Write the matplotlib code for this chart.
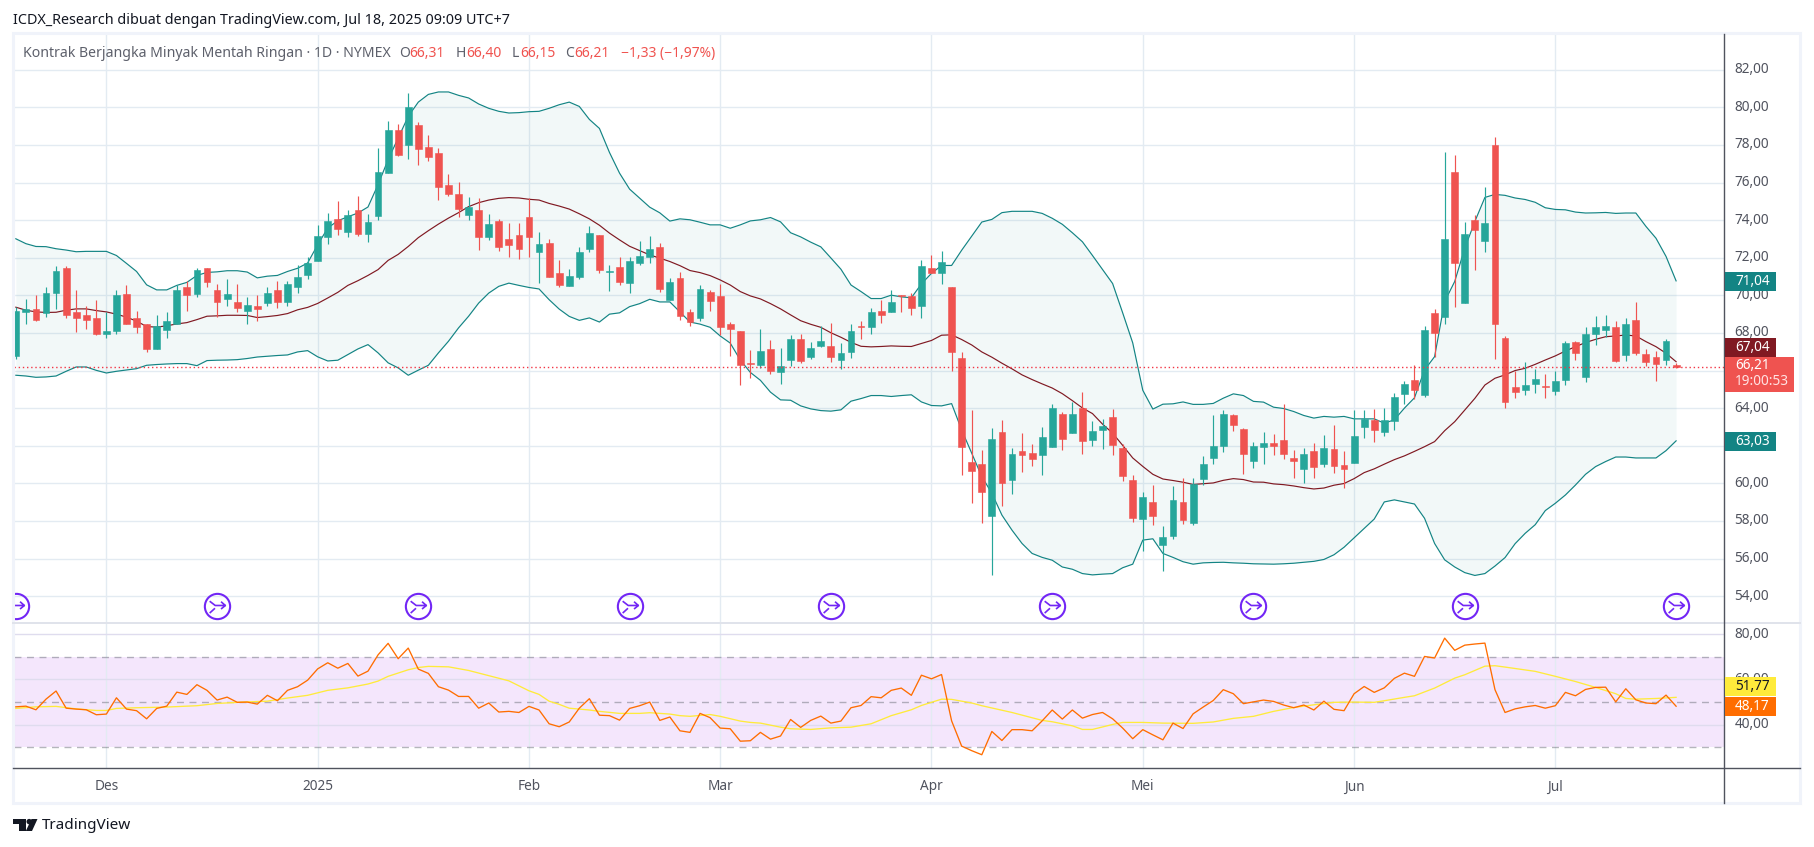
import matplotlib
matplotlib.use("Agg")
import matplotlib.pyplot as plt
import matplotlib.transforms as mtrans
import numpy as np
from matplotlib.path import Path
from matplotlib.patches import Rectangle, Polygon, Circle

plt.rcParams['font.family'] = ['Noto Sans', 'DejaVu Sans']

opens = [66.76,69.09,69.30,69.05,70.15,71.48,69.14,68.93,68.82,67.97,
68.13,70.05,68.77,68.50,67.12,68.18,68.50,70.47,70.05,71.48,
70.26,69.78,69.62,69.19,69.46,69.57,70.26,69.67,70.42,71.10,
71.84,73.12,74.08,73.39,74.56,73.28,74.24,76.52,78.81,78.01,
79.08,77.91,77.59,75.89,75.41,74.29,74.56,73.12,73.97,73.01,
73.23,74.18,72.32,72.80,71.21,70.51,70.99,72.47,73.22,71.25,
71.51,70.66,71.73,72.05,72.58,69.75,70.93,69.12,68.80,70.18,
69.96,68.48,68.10,66.40,66.29,67.14,65.92,66.56,67.68,66.72,
67.30,67.30,66.56,66.98,68.39,68.34,69.19,69.14,70.00,69.94,
69.41,71.43,71.17,70.42,66.69,61.15,61.04,58.27,62.75,60.19,
61.73,61.63,61.52,61.95,63.71,62.69,64.02,62.32,62.85,63.55,
61.89,60.19,58.10,59.00,56.71,57.19,59.00,57.89,60.23,61.35,
61.99,63.64,62.90,61.19,61.94,62.15,62.31,61.35,60.77,61.73,
61.03,61.83,60.98,61.09,63.01,63.38,62.74,63.33,64.76,65.50,
64.70,69.07,68.85,76.58,69.60,74.02,72.90,78.02,67.73,65.12,
64.96,65.28,65.16,64.91,65.50,67.52,65.66,67.95,68.16,68.32,
66.83,68.69,66.88,66.72,66.56,66.31]
closes = [69.19,69.30,68.71,70.15,71.27,68.93,68.77,68.71,67.95,68.13,
70.00,68.50,68.29,67.17,68.39,68.61,70.31,70.00,71.33,70.69,
69.62,70.05,69.35,69.51,69.25,70.15,69.62,70.63,71.00,71.74,
73.17,73.97,73.55,74.29,73.28,73.92,76.58,78.81,77.48,80.04,
77.80,77.38,75.78,75.41,74.61,74.72,73.12,73.81,72.59,72.70,
72.48,73.12,72.75,70.99,70.57,71.05,72.32,73.33,71.35,71.28,
70.71,71.83,72.10,72.47,70.34,70.71,68.90,68.58,70.34,69.70,
68.32,68.21,66.29,66.34,67.04,65.97,66.24,67.68,66.50,67.20,
67.57,66.72,66.93,68.10,68.29,69.14,68.98,69.67,69.94,69.35,
71.54,71.17,71.75,66.96,61.95,60.67,59.55,62.37,60.03,61.56,
61.52,61.31,62.48,64.02,62.37,63.71,62.27,62.80,63.07,62.05,
60.40,58.16,59.27,58.26,57.14,59.11,58.05,59.96,61.03,62.00,
63.70,63.11,61.57,61.99,62.15,61.99,61.57,61.19,61.57,60.87,
61.89,60.93,60.77,62.53,63.43,62.85,63.38,64.60,65.30,64.96,
68.16,68.00,73.01,71.73,73.29,73.49,73.86,68.48,64.32,64.86,
65.23,65.55,65.12,65.44,67.47,66.93,67.95,68.32,68.37,66.51,
68.48,66.93,66.45,66.35,67.57,66.21]
highs = [69.39,69.78,70.00,70.42,71.54,71.54,70.31,69.41,69.73,69.14,
70.26,70.53,69.19,68.50,68.93,69.09,70.53,70.74,71.43,71.48,
70.58,70.85,70.63,69.89,70.00,70.47,70.79,70.79,71.59,72.06,
73.76,74.40,75.04,74.56,75.30,74.34,77.85,79.29,79.13,80.78,
79.24,78.55,77.85,76.47,76.05,75.25,75.19,74.34,74.08,73.87,
73.87,75.19,73.39,73.01,71.90,71.42,72.59,73.70,73.22,71.62,
72.05,72.05,72.90,73.17,72.79,70.93,71.25,69.28,70.55,70.29,
70.61,68.58,68.10,67.09,68.21,67.62,67.20,67.89,67.94,67.52,
68.37,68.53,67.46,68.45,68.66,69.35,69.73,70.26,70.00,70.15,
71.86,72.12,72.34,70.47,66.96,63.92,61.79,62.96,63.39,61.89,
62.69,62.11,63.01,64.24,63.81,64.34,64.88,63.33,63.44,63.97,
62.11,60.45,59.54,59.91,57.73,59.86,60.28,60.28,61.46,63.64,
63.91,63.70,62.95,62.21,62.74,62.63,64.23,61.78,61.89,62.15,
62.58,63.11,61.73,63.91,63.91,63.96,64.02,64.82,65.46,66.29,
68.37,69.28,77.64,77.48,73.91,74.29,75.78,78.44,67.84,65.97,
66.45,66.08,65.82,65.97,67.57,67.57,68.32,68.91,68.96,68.64,
68.80,69.65,67.15,67.04,67.68,66.40]
lows = [66.60,68.50,68.66,68.87,69.30,68.79,68.07,68.23,67.91,67.75,
67.97,68.50,68.02,67.01,67.12,67.75,68.50,69.19,69.89,70.42,
68.87,69.41,69.14,68.45,68.61,69.41,69.35,69.46,70.15,70.89,
71.84,72.75,73.23,73.12,73.17,72.85,74.02,76.52,77.43,77.27,
76.95,77.16,75.09,75.30,74.18,74.02,72.43,72.96,72.38,72.06,
71.95,72.06,70.67,70.99,70.46,70.51,70.89,72.31,71.19,70.23,
70.55,70.13,71.62,71.73,70.18,69.75,68.69,68.37,68.64,69.17,
67.89,66.77,65.23,65.60,66.13,65.81,65.28,66.24,66.40,66.61,
67.25,66.45,66.08,66.69,67.70,67.97,68.55,69.09,69.14,68.93,
68.82,71.17,70.63,66.00,60.45,58.96,57.90,55.13,58.80,59.44,
60.61,60.93,60.45,61.95,61.79,62.69,61.57,62.00,61.84,61.52,
60.13,57.95,56.39,57.78,55.33,57.03,57.83,57.78,59.91,61.03,
61.67,62.79,60.50,60.82,61.03,61.51,61.30,60.29,60.02,60.29,
60.87,60.55,59.75,61.09,62.42,62.21,62.53,62.85,64.23,64.48,
64.59,66.72,68.48,69.39,69.60,71.36,72.32,66.61,64.00,64.54,
64.70,64.80,64.54,64.70,65.23,66.56,65.39,67.36,67.79,66.45,
66.51,66.83,66.24,65.44,66.29,66.15]

bb_upper = [73.01,72.75,72.60,72.59,72.48,72.41,72.32,72.34,72.34,72.34,
72.12,71.70,71.27,70.56,70.29,70.29,70.53,70.69,71.06,71.22,
71.25,71.31,71.31,71.24,70.93,71.02,71.06,71.27,71.44,71.72,
72.69,73.58,73.97,74.18,74.38,74.70,75.89,77.22,78.37,79.52,
80.28,80.69,80.82,80.82,80.64,80.50,80.18,79.95,79.79,79.70,
79.72,79.77,79.79,79.95,80.14,80.28,80.05,79.36,78.88,77.60,
76.50,75.65,75.17,74.69,74.39,73.95,74.07,74.02,73.89,73.75,
73.75,73.57,73.75,73.96,74.02,74.14,73.91,73.33,73.11,72.83,
72.58,71.99,71.39,70.55,70.20,69.83,69.83,70.01,69.92,69.87,
70.61,71.17,71.59,71.59,72.40,73.15,73.90,74.04,74.40,74.47,
74.47,74.47,74.36,74.10,73.78,73.33,72.85,72.12,71.38,70.63,
69.07,67.47,64.95,63.95,64.21,64.23,64.33,64.20,64.20,64.25,
64.53,64.76,64.67,64.36,64.32,64.05,63.98,63.82,63.61,63.47,
63.56,63.52,63.56,63.43,63.43,63.43,63.20,63.38,64.00,64.55,
66.03,66.74,69.67,70.74,72.51,73.93,75.21,75.37,75.32,75.18,
75.10,74.95,74.66,74.57,74.55,74.43,74.38,74.39,74.41,74.36,
74.38,74.38,73.67,73.04,72.07,70.77]
bb_basis = [69.37,69.21,69.12,69.09,69.10,69.21,69.28,69.28,69.19,69.12,
69.00,68.84,68.63,68.34,68.31,68.38,68.48,68.55,68.71,68.89,
68.91,68.94,68.94,68.93,68.82,68.87,68.93,69.03,69.23,69.36,
69.57,69.86,70.16,70.53,70.78,71.06,71.37,71.86,72.18,72.60,
73.07,73.44,73.79,74.11,74.40,74.72,74.93,75.07,75.16,75.20,
75.18,75.11,75.07,74.89,74.75,74.59,74.34,74.07,73.73,73.31,
72.95,72.61,72.38,72.15,71.98,71.80,71.58,71.32,71.21,71.05,
70.82,70.55,70.20,69.97,69.81,69.56,69.28,68.96,68.65,68.46,
68.30,68.01,67.77,67.50,67.29,67.26,67.28,67.31,67.29,67.28,
67.44,67.60,67.88,67.90,67.65,67.36,66.99,66.71,66.39,66.09,
65.77,65.52,65.29,65.07,64.77,64.40,64.01,63.71,63.15,62.67,
62.02,61.35,60.90,60.48,60.23,60.15,60.06,59.94,59.98,60.02,
60.16,60.25,60.20,60.07,60.06,59.97,59.93,59.86,59.77,59.70,
59.75,59.90,59.99,60.25,60.57,60.77,61.02,61.26,61.46,61.70,
61.95,62.22,62.80,63.28,63.90,64.52,65.23,65.59,65.77,66.00,
66.12,66.33,66.56,66.78,67.04,67.27,67.49,67.66,67.80,67.84,
67.89,67.84,67.54,67.27,66.92,66.47]
bb_lower = [65.75,65.71,65.64,65.66,65.71,65.96,66.19,66.19,66.01,65.87,
65.96,66.03,66.10,66.28,66.32,66.35,66.37,66.37,66.26,66.53,
66.55,66.56,66.58,66.64,66.72,66.76,66.80,66.83,66.99,67.06,
66.73,66.51,66.55,66.85,67.15,67.38,66.94,66.41,66.14,65.75,
66.02,66.28,66.94,67.56,68.27,68.89,69.59,70.12,70.48,70.65,
70.53,70.42,70.34,69.77,69.27,68.88,68.67,68.80,68.58,69.00,
69.07,69.40,69.56,69.79,69.65,69.65,69.12,68.58,68.47,68.30,
67.84,67.46,66.56,65.90,65.48,64.85,64.44,64.42,64.12,63.96,
63.87,63.84,63.91,64.37,64.51,64.67,64.67,64.62,64.67,64.71,
64.33,64.14,64.12,64.24,62.84,61.60,60.36,59.47,58.31,57.51,
56.80,56.27,56.06,55.91,55.55,55.43,55.20,55.13,55.17,55.20,
55.51,55.70,56.98,57.05,56.27,56.06,55.83,55.70,55.77,55.79,
55.80,55.77,55.75,55.72,55.71,55.70,55.72,55.75,55.80,55.85,
55.95,56.20,56.60,57.10,57.60,58.10,59.01,59.12,59.01,58.90,
58.14,56.80,55.93,55.55,55.25,55.10,55.20,55.60,56.05,56.79,
57.34,57.80,58.55,58.94,59.38,59.91,60.48,60.89,61.16,61.40,
61.40,61.35,61.35,61.35,61.74,62.26]

rsi = [47.9,48.2,46.6,51.3,54.9,47.3,46.9,46.6,44.4,44.7,
51.9,46.9,46.2,42.6,47.2,48.2,54.4,53.4,57.7,55.2,
50.9,52.2,49.9,50.0,49.1,53.0,50.6,55.2,56.8,59.7,
64.7,67.4,65.0,67.1,61.5,63.7,70.9,76.0,69.2,73.9,
64.6,62.7,56.8,55.3,52.5,52.5,47.3,49.6,45.6,45.9,
45.4,48.1,46.5,40.4,39.1,41.2,47.3,51.5,44.2,44.0,
42.0,47.2,48.4,50.0,41.9,43.4,37.3,36.6,45.0,43.1,
38.5,38.2,32.7,32.9,36.6,33.6,35.0,42.3,38.8,41.9,
43.8,40.7,41.6,47.5,48.5,52.4,51.9,55.2,56.2,53.0,
61.9,60.3,62.2,41.7,30.5,28.5,26.7,37.0,33.0,37.8,
37.8,37.3,41.7,46.5,42.5,46.5,42.9,44.5,45.4,42.6,
38.5,33.8,37.8,35.5,33.3,40.7,38.3,44.8,47.8,50.7,
55.5,53.7,49.3,50.1,50.9,50.3,48.7,47.5,48.7,46.5,
50.4,46.8,46.2,53.7,56.9,54.3,56.3,60.5,62.8,61.4,
70.2,69.5,78.3,72.9,75.2,75.7,76.1,55.5,45.4,47.0,
47.9,48.5,47.3,48.4,54.3,52.8,55.6,56.5,56.6,50.1,
55.9,51.0,49.6,49.3,53.1,48.17]

rsi_ma_bars = [0,2,4,6,8,9,10,12,15,18,20,23,25,27,29,30,31,33,35,36,37,39,40,41,43,
45,47,49,51,52,53,54,55,57,58,60,62,63,65,66,67,69,70,72,73,74,76,77,79,81,
83,85,87,89,90,92,93,95,96,99,102,103,105,106,107,109,110,112,114,117,119,121,123,125,127,
129,131,133,135,136,138,139,141,143,144,146,147,148,151,153,155,157,159,160,161,163,165]
rsi_ma_values = [47.2,47.9,48.1,47.0,46.3,46.3,47.2,47.5,47.8,48.4,49.4,50.1,50.4,51.8,53.0,54.1,55.2,56.3,58.0,59.3,61.4,64.3,65.3,65.8,65.6,
64.0,61.7,59.4,55.0,53.4,50.4,49.0,47.3,46.5,45.9,45.0,45.0,45.3,44.7,44.0,43.7,44.5,43.7,41.6,41.0,40.7,38.9,38.2,37.9,38.6,
38.9,40.4,44.0,46.6,48.5,51.3,51.2,49.6,48.4,45.4,41.9,41.3,39.5,37.9,37.9,40.1,41.0,41.0,40.7,40.6,41.2,42.8,43.7,45.9,47.6,
48.8,49.9,50.0,49.9,50.6,52.1,52.8,56.2,60.6,62.1,65.9,66.1,65.5,63.6,61.4,59.1,56.5,53.7,51.6,51.3,51.6,52.1]

price_ticks = [54,56,58,60,62,64,66,68,70,72,74,76,78,80,82]
hidden_price_labels = [62,66]
rsi_ticks = [80,60,40]
rsi_bands = [30,50,70]
month_bars = [9,30,51,70,91,112,133,153]
month_labels = ['Des','2025','Feb','Mar','Apr','Mei','Jun','Jul']
event_bars = [0,20,40,61,81,103,123,144,165]
last_price = 66.21

W, H = 1814, 847
UP, DOWN = '#26a69a', '#ef5350'
TEAL, BASIS = '#138484', '#801922'
GRID = '#e3ebf2'
AXT = '#50535e'

fig = plt.figure(figsize=(W/100, H/100), dpi=100, facecolor='white')

def make_ax(left, right, top, bottom):
    return fig.add_axes([left/W, 1-bottom/H, (right-left)/W, (bottom-top)/H])

L, R = 13.8, 1724.7
x_range = (-0.2, 169.83)

ax = make_ax(L, R, 35, 623)
ax.set_xlim(*x_range)
ax.set_ylim(52.57, 83.85)
ax2 = make_ax(L, R, 623, 768.3)
ax2.set_xlim(*x_range)
ax2.set_ylim(20.7, 85.0)

bars = np.arange(len(closes))
o, c, h, l = map(np.array, (opens, closes, highs, lows))
up = c >= o
col = np.where(up, UP, DOWN)

for a in (ax, ax2):
    a.set_facecolor('none')
    for s in a.spines.values():
        s.set_visible(False)
    a.set_axisbelow(True)
    a.set_xticks(month_bars)
    a.grid(True, axis='both', color=GRID, lw=1.0, zorder=0)
    a.yaxis.tick_right()
    a.tick_params(axis='both', length=0, labelcolor=AXT, labelsize=9.8)
    a.tick_params(axis='y', pad=7)

ax.set_yticks(price_ticks)
ax.set_yticklabels(['' if t in hidden_price_labels else f'{t:.2f}'.replace('.', ',')
                    for t in price_ticks])
ax.tick_params(axis='x', labelbottom=False)

# Bollinger bands
ax.fill_between(bars, bb_lower, bb_upper, color=TEAL, alpha=0.05, lw=0, zorder=1)
ax.plot(bars, bb_upper, color=TEAL, lw=0.85, zorder=2)
ax.plot(bars, bb_lower, color=TEAL, lw=0.85, zorder=2)
ax.plot(bars, bb_basis, color=BASIS, lw=0.85, zorder=2)

# candles
ax.vlines(bars, l, h, colors=col, lw=0.85, zorder=3)
ax.bar(bars, np.abs(c-o), bottom=np.minimum(o, c), width=0.68, color=col,
       edgecolor=col, lw=0.4, zorder=4)

# last price line
ax.axhline(last_price, color='#f23645', lw=1.0, ls=(0, (1, 2)), zorder=5)

# event icons
event_y = 53.46
ax.plot(event_bars, [event_y]*len(event_bars), ls='none', marker='o', ms=18.2,
        mfc='none', mec='#7226f5', mew=1.5, zorder=6, clip_on=True)
icon = Path([(-1,-1),(1,1),
             (-0.62,0.42),(-0.18,0.08),(0.62,0.08),
             (0.28,0.38),(0.62,0.08),(0.28,-0.2),
             (-0.62,-0.52),(-0.2,-0.14)],
            [Path.MOVETO,Path.MOVETO,
             Path.MOVETO,Path.LINETO,Path.LINETO,
             Path.MOVETO,Path.LINETO,Path.LINETO,
             Path.MOVETO,Path.LINETO])
ax.plot(event_bars, [event_y]*len(event_bars), ls='none', marker=icon, ms=18.2,
        mfc='none', mec='#7226f5', mew=1.2, zorder=6)

# RSI pane
ax2.axhspan(rsi_bands[0], rsi_bands[2], facecolor='#f4e6fc', lw=0, zorder=0.5)
ax2.set_yticks(rsi_ticks)
ax2.set_yticklabels([f'{t:.2f}'.replace('.', ',') for t in rsi_ticks])
ax2.set_xticklabels(month_labels)
ax2.tick_params(axis='x', pad=8, labelsize=9.8)
for lab in ax2.get_xticklabels():
    if lab.get_text() == '2025':
        lab.set_fontweight('bold')
for v in rsi_bands:
    ax2.axhline(v, color='#787b86', alpha=0.55, lw=1.0, ls=(0, (5, 4)), zorder=1)
ax2.grid(True, axis='y', color='#dfdcee', lw=1.0)
ax2.plot(rsi_ma_bars, rsi_ma_values, color='#ffeb3b', lw=0.95, zorder=3)
ax2.plot(bars, rsi, color='#ff6d00', lw=0.95, zorder=4)

# nudge price-scale labels up slightly
shift = mtrans.ScaledTranslation(0, 2/100, fig.dpi_scale_trans)
for a in (ax, ax2):
    for lab in a.get_yticklabels():
        lab.set_transform(lab.get_transform() + shift)

# overlay chrome (pixel coordinates)
ov = fig.add_axes([0, 0, 1, 1], zorder=10)
ov.set_xlim(0, W)
ov.set_ylim(H, 0)
ov.axis('off')
ov.patch.set_alpha(0)
ov.add_patch(Rectangle((12.5, 33.5), 1787.5, 769.5, fill=False, ec='#f0f3fa', lw=2.2))
ov.plot([13, 1800], [623, 623], color='#e0e3eb', lw=1.4)
ov.plot([13, 1800], [768.3, 768.3], color=AXT, lw=1.0)
ov.plot([1724.4, 1724.4], [34, 803], color=AXT, lw=1.0)

def label(y0, y1, txt, bg, fg='white', right=1775.6):
    ov.add_patch(Rectangle((1725.3, y0), right-1725.3, y1-y0, fc=bg, ec='none', zorder=3))
    ov.text(1735, (y0+y1)/2, txt, color=fg, fontsize=9.8, va='center', ha='left', zorder=4)

label(272, 291, '71,04', TEAL)
label(338.3, 357, '67,04', BASIS)
label(432.3, 450.7, '63,03', TEAL)
label(677, 696, '51,77', '#ffeb3b', fg='#131722')
label(697, 716, '48,17', '#ff6d00')
ov.add_patch(Rectangle((1725.3, 357.3), 1794-1725.3, 34.4, fc=DOWN, ec='none', zorder=3))
ov.text(1735, 365.7, '66,21', color='white', fontsize=9.8, va='center', zorder=4)
ov.text(1735, 381.3, '19:00:53', color='#ffe3e3', fontsize=9.8, va='center', zorder=4)

# header text
ov.text(13, 20, 'ICDX_Research dibuat dengan TradingView.com, Jul 18, 2025 09:09 UTC+7',
        fontsize=10.35, color='#131722', va='center', ha='left')
ov.text(23.2, 53.7, 'Kontrak Berjangka Minyak Mentah Ringan · 1D · NYMEX',
        fontsize=10.15, color='#5d606b', va='center', ha='left')
RED = '#f0534f'
for xp, txt, colr in [(399, 'O', '#5d606b'), (409, '66,31', RED),
                      (456, 'H', '#5d606b'), (466, '66,40', RED),
                      (512, 'L', '#5d606b'), (520, '66,15', RED),
                      (565, 'C', '#5d606b'), (574, '66,21', RED),
                      (621, '−1,33 (−1,97%)', RED)]:
    ov.text(xp, 53.7, txt, fontsize=10.0, color=colr, va='center', ha='left')

# TradingView logo + wordmark
ov.add_patch(Polygon([(13, 819), (25.5, 819), (25.5, 831), (19, 831), (19, 824.5), (13, 824.5)],
                     fc='#131722', ec='none'))
ov.add_patch(Circle((29.2, 821.6), 2.7, fc='#131722', ec='none'))
ov.add_patch(Polygon([(31.5, 819), (37.5, 819), (32, 831), (25.8, 831)], fc='#131722', ec='none'))
ov.text(42, 825.7, 'TradingView', fontsize=11.0, color='#131722', va='center', ha='left')

fig.savefig('out.png', dpi=100, facecolor='white')
